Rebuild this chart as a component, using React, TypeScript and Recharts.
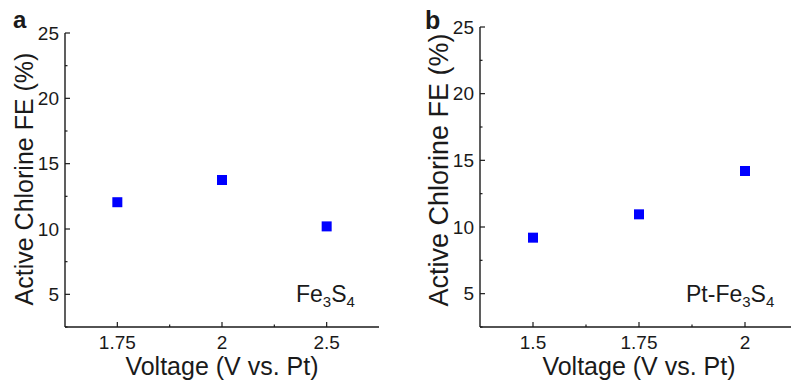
import React from "react";
import { LineChart, Line, XAxis, YAxis } from "recharts";

// panel a: Fe3S4
const voltagesA = ["1.75", "2", "2.5"];
const feA = [12.05, 13.75, 10.2];
// panel b: Pt-Fe3S4
const voltagesB = ["1.5", "1.75", "2"];
const feB = [9.2, 10.95, 14.2];

// category slots on the x axis (majors on whole numbers, minors between)
const xTickPos = [0, 0.5, 1, 1.5, 2];
const yTicks = [2.5, 5, 7.5, 10, 12.5, 15, 17.5, 20, 22.5, 25];

const FONT = '"Liberation Sans", Arial, Helvetica, sans-serif';
const INK = "#1a1a1a";
const BLUE = "#0000ff";
const X_GAP = 9;
const Y_GAP = 6;
const TICK_FONT = 19;

const makeXTick = (labels: string[]) => (props: any) => {
  const { x, y, payload } = props;
  const v = payload.value;
  const axisY = y - X_GAP;
  const major = Number.isInteger(v);
  return (
    <g>
      <line x1={x} x2={x} y1={axisY} y2={axisY - (major ? 5 : 2.5)} stroke={INK} strokeWidth={1.2} />
      {major && (
        <text x={x} y={y} dy="0.71em" textAnchor="middle" fontSize={TICK_FONT} fill={INK} fontFamily={FONT}>
          {labels[v]}
        </text>
      )}
    </g>
  );
};

const YTick = (props: any) => {
  const { x, y, payload } = props;
  const v = payload.value;
  const axisX = x + Y_GAP;
  const major = v % 5 === 0;
  return (
    <g>
      <line x1={axisX} x2={axisX + (major ? 5 : 2.5)} y1={y} y2={y} stroke={INK} strokeWidth={1.2} />
      {major && (
        <text x={x} y={y} dy="0.355em" textAnchor="end" fontSize={TICK_FONT} fill={INK} fontFamily={FONT}>
          {v}
        </text>
      )}
    </g>
  );
};

const SquareDot = (props: any) => {
  const { cx, cy } = props;
  if (cx == null || cy == null) return <g />;
  return <rect x={cx - 5} y={cy - 5} width={10} height={10} fill={BLUE} />;
};

interface PanelProps {
  voltages: string[];
  fe: number[];
  margin: { top: number; right: number; left: number; bottom: number };
  yTitleX: number;
  yTitleY: number;
  yTitleSize: number;
  xTitleSize: number;
}

const Panel = ({ voltages, fe, margin, yTitleX, yTitleY, yTitleSize, xTitleSize }: PanelProps) => {
  const rows = voltages.map((v, i) => ({ i, fe: fe[i] }));
  return (
    <LineChart width={400} height={383} data={rows} margin={margin}>
      <XAxis
        type="number"
        dataKey="i"
        domain={[-0.5, 2.5]}
        ticks={xTickPos}
        interval={0}
        height={56}
        tickSize={0}
        tickMargin={X_GAP}
        axisLine={{ stroke: INK, strokeWidth: 1.4 }}
        tick={makeXTick(voltages)}
        label={(p: any) => {
          const vb = p.viewBox;
          return (
            <text
              x={vb.x + vb.width / 2}
              y={vb.y + 48}
              textAnchor="middle"
              fontSize={xTitleSize}
              fill={INK}
              fontFamily={FONT}
            >
              Voltage (V vs. Pt)
            </text>
          );
        }}
      />
      <YAxis
        type="number"
        domain={[2.5, 25]}
        ticks={yTicks}
        interval={0}
        width={50}
        tickSize={0}
        tickMargin={Y_GAP}
        axisLine={{ stroke: INK, strokeWidth: 1.4 }}
        tick={YTick}
        label={() => (
          <text
            x={yTitleX}
            y={yTitleY}
            transform={`rotate(-90 ${yTitleX} ${yTitleY})`}
            textAnchor="middle"
            dominantBaseline="central"
            fontSize={yTitleSize}
            fill={INK}
            fontFamily={FONT}
          >
            Active Chlorine FE (%)
          </text>
        )}
      />
      <Line
        dataKey="fe"
        stroke="none"
        dot={<SquareDot />}
        activeDot={false}
        isAnimationActive={false}
      />
    </LineChart>
  );
};

export default function App() {
  return (
    <div
      style={{
        position: "absolute",
        left: 0,
        top: 0,
        width: 791,
        height: 383,
        overflow: "hidden",
        background: "#fff",
      }}
    >
      <div style={{ position: "absolute", left: 0, top: 0 }}>
        <Panel
          voltages={voltagesA}
          fe={feA}
          margin={{ top: 33, right: 21, left: 15, bottom: 0 }}
          yTitleX={24}
          yTitleY={179}
          yTitleSize={25}
          xTitleSize={25}
        />
      </div>
      <div style={{ position: "absolute", left: 400, top: 0 }}>
        <Panel
          voltages={voltagesB}
          fe={feB}
          margin={{ top: 27, right: 2, left: 30, bottom: 0 }}
          yTitleX={39}
          yTitleY={170}
          yTitleSize={27}
          xTitleSize={25}
        />
      </div>
      <svg
        width={791}
        height={383}
        style={{ position: "absolute", left: 0, top: 0, pointerEvents: "none" }}
        fontFamily={FONT}
        fill={INK}
      >
        <text x={13} y={28} fontSize={24} fontWeight="bold">a</text>
        <text x={425} y={29} fontSize={25} fontWeight="bold">b</text>
        <text x={296} y={302} fontSize={23}>
          Fe<tspan fontSize={15} dy={5}>3</tspan>
          <tspan dy={-5}>S</tspan>
          <tspan fontSize={15} dy={5}>4</tspan>
        </text>
        <text x={686} y={302} fontSize={23}>
          Pt-Fe<tspan fontSize={15} dy={5}>3</tspan>
          <tspan dy={-5}>S</tspan>
          <tspan fontSize={15} dy={5}>4</tspan>
        </text>
      </svg>
    </div>
  );
}
